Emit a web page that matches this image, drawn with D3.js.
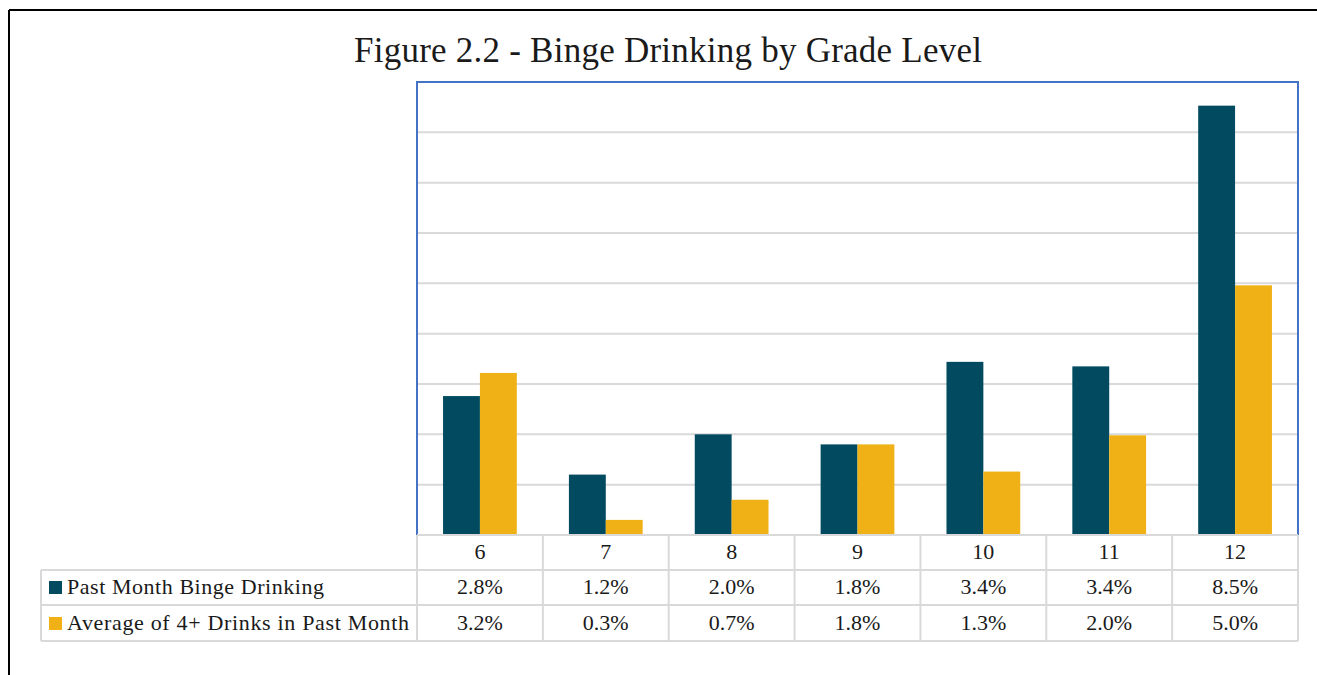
<!DOCTYPE html>
<html>
<head>
<meta charset="utf-8">
<script src="https://cdn.jsdelivr.net/npm/d3@7"></script>
<style>
  html, body { margin: 0; padding: 0; background: #fff; }
  svg { display: block; }
  text { font-family: "Liberation Serif", "DejaVu Serif", serif; fill: #1a1a1a; }
</style>
</head>
<body>
<svg id="chart" width="1317" height="675"></svg>
<script>
const title = "Figure 2.2 - Binge Drinking by Grade Level";
const grades = ["6", "7", "8", "9", "10", "11", "12"];
const seriesNames = ["Past Month Binge Drinking", "Average of 4+ Drinks in Past Month"];
const bingeValues = [2.76, 1.2, 2.0, 1.8, 3.44, 3.35, 8.53];
const fourPlusValues = [3.22, 0.3, 0.7, 1.8, 1.26, 1.98, 4.96];
const bingeLabels = ["2.8%", "1.2%", "2.0%", "1.8%", "3.4%", "3.4%", "8.5%"];
const fourPlusLabels = ["3.2%", "0.3%", "0.7%", "1.8%", "1.3%", "2.0%", "5.0%"];
const gridTicks = [1, 2, 3, 4, 5, 6, 7, 8];
const colors = ["#014A60", "#EFB115"];

const svg = d3.select("#chart");

// outer frame (black)
svg.append("line").attr("x1", 9).attr("x2", 1317).attr("y1", 10).attr("y2", 10)
  .attr("stroke", "#000").attr("stroke-width", 2);
svg.append("line").attr("x1", 9).attr("x2", 9).attr("y1", 10).attr("y2", 675)
  .attr("stroke", "#000").attr("stroke-width", 2);

const plot = { left: 417, right: 1298, top: 82, bottom: 535 };

const x0 = d3.scaleBand().domain(grades).range([plot.left, plot.right]).padding(0);
const bw = x0.bandwidth();
const x1 = d3.scaleBand().domain(seriesNames).range([bw * 0.207, bw * 0.793]).padding(0);
const y = d3.scaleLinear().domain([0, 9]).range([plot.bottom, plot.top]);

// gridlines
svg.append("g").selectAll("line").data(gridTicks).join("line")
  .attr("x1", plot.left).attr("x2", plot.right)
  .attr("y1", d => y(d)).attr("y2", d => y(d))
  .attr("stroke", "#D9D9D9").attr("stroke-width", 2);

// bars
const data = grades.map((g, i) => ({ g, vals: [bingeValues[i], fourPlusValues[i]] }));
const groups = svg.append("g").selectAll("g").data(data).join("g")
  .attr("transform", d => `translate(${x0(d.g)},0)`);
groups.selectAll("rect").data(d => d.vals.map((v, k) => ({ v, k }))).join("rect")
  .attr("x", d => x1(seriesNames[d.k]))
  .attr("width", x1.bandwidth())
  .attr("y", d => y(d.v))
  .attr("height", d => y(0) - y(d.v))
  .attr("fill", d => colors[d.k]);

// plot area border (blue) left, top, right
svg.append("path")
  .attr("d", `M${plot.left},${plot.bottom} L${plot.left},${plot.top} L${plot.right},${plot.top} L${plot.right},${plot.bottom}`)
  .attr("fill", "none").attr("stroke", "#4472C4").attr("stroke-width", 2);

// data table
const rowTops = [535, 570, 605, 641];
const tableLeft = 41;
const tg = svg.append("g");
const gridColor = "#D9D9D9";
tg.append("line").attr("x1", plot.left).attr("x2", plot.right).attr("y1", rowTops[0]).attr("y2", rowTops[0])
  .attr("stroke", gridColor).attr("stroke-width", 2);
[rowTops[1], rowTops[2], rowTops[3]].forEach(yy => {
  tg.append("line").attr("x1", tableLeft).attr("x2", plot.right).attr("y1", yy).attr("y2", yy)
    .attr("stroke", gridColor).attr("stroke-width", 2);
});
const colEdges = grades.map(g => x0(g)).concat([plot.right]);
colEdges.forEach(xx => {
  tg.append("line").attr("x1", xx).attr("x2", xx).attr("y1", rowTops[0]).attr("y2", rowTops[3])
    .attr("stroke", gridColor).attr("stroke-width", 2);
});
tg.append("line").attr("x1", tableLeft).attr("x2", tableLeft).attr("y1", rowTops[1]).attr("y2", rowTops[3])
  .attr("stroke", gridColor).attr("stroke-width", 2);

// header labels
tg.selectAll("text.hdr").data(grades).join("text").attr("class", "hdr")
  .attr("x", d => x0(d) + bw / 2).attr("y", 559)
  .attr("text-anchor", "middle").attr("font-size", 22).text(d => d);

// value rows
const rows = [bingeLabels, fourPlusLabels];
const rowBase = [594, 630];
const nameWidths = [257, 342];
rows.forEach((labels, r) => {
  tg.selectAll("text.v" + r).data(labels).join("text").attr("class", "v" + r)
    .attr("x", (d, i) => x0(grades[i]) + bw / 2).attr("y", rowBase[r])
    .attr("text-anchor", "middle").attr("font-size", 22).text(d => d);
  tg.append("rect").attr("x", 49).attr("y", rowBase[r] - 13).attr("width", 13).attr("height", 13)
    .attr("fill", colors[r]);
  tg.append("text").attr("x", 67).attr("y", rowBase[r]).attr("font-size", 22)
    .attr("textLength", nameWidths[r]).attr("lengthAdjust", "spacing").text(seriesNames[r]);
});

// title
svg.append("text").attr("x", 668).attr("y", 62).attr("text-anchor", "middle")
  .attr("font-size", 35).attr("textLength", 628).attr("lengthAdjust", "spacing").text(title);
</script>
</body>
</html>
